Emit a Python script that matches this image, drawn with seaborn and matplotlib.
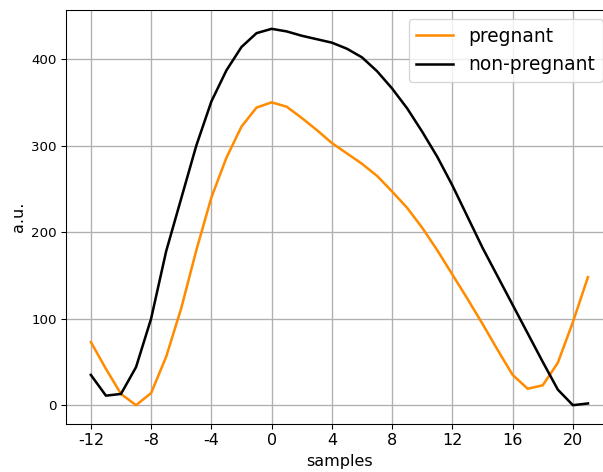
import numpy as np
import pandas as pd
import matplotlib
matplotlib.use("Agg")
import matplotlib.pyplot as plt
import seaborn as sns

samples = list(range(-12, 22))
pregnant = [73, 42, 13, 0, 14, 56, 112, 179, 240, 286, 322, 344, 350, 345, 332, 318,
            303, 291, 279, 265, 247, 228, 205, 179, 151, 123, 94, 64, 35, 19, 23, 49, 96, 148]
non_pregnant = [35, 11, 13, 44, 100, 178, 239, 300, 351, 387, 414, 430, 435, 432, 427, 423,
                419, 412, 402, 386, 366, 343, 316, 287, 254, 218, 182, 149, 116, 83, 50, 18, 0, 2]
xticks = [-12, -8, -4, 0, 4, 8, 12, 16, 20]

df = pd.DataFrame({
    "samples": samples * 2,
    "a.u.": pregnant + non_pregnant,
    "group": ["pregnant"] * len(samples) + ["non-pregnant"] * len(samples),
})

plt.rcParams['font.family'] = ['DejaVu Sans']

DPI = 96
fig = plt.figure(figsize=(603 / DPI, 472 / DPI), dpi=DPI)
ax = fig.add_axes([66 / 603, 1 - 424 / 472, (612.8 - 66) / 603, (424 - 10) / 472])
sns.lineplot(data=df, x="samples", y="a.u.", hue="group",
             palette={"pregnant": "darkorange", "non-pregnant": "black"},
             linewidth=1.9, ax=ax, legend=True)
ax.set_xticks(xticks)
ax.set_xticklabels([str(t) for t in xticks])
ax.set_yticks([0, 100, 200, 300, 400])
ax.tick_params(axis='x', labelsize=12)
ax.tick_params(axis='y', labelsize=10)
ax.set_xlabel("samples", fontsize=12)
ax.set_ylabel("a.u.", fontsize=12)
ax.grid(True, color="#b0b0b0", linewidth=1)
ax.set_axisbelow(True)
handles, labels = ax.get_legend_handles_labels()
ax.get_legend().remove()
fig.legend(handles, labels, fontsize=14, loc="upper right",
           bbox_to_anchor=(612 / 603, 1 - 10 / 472), frameon=True, framealpha=0.8)
fig.savefig("out.png", dpi=DPI)
